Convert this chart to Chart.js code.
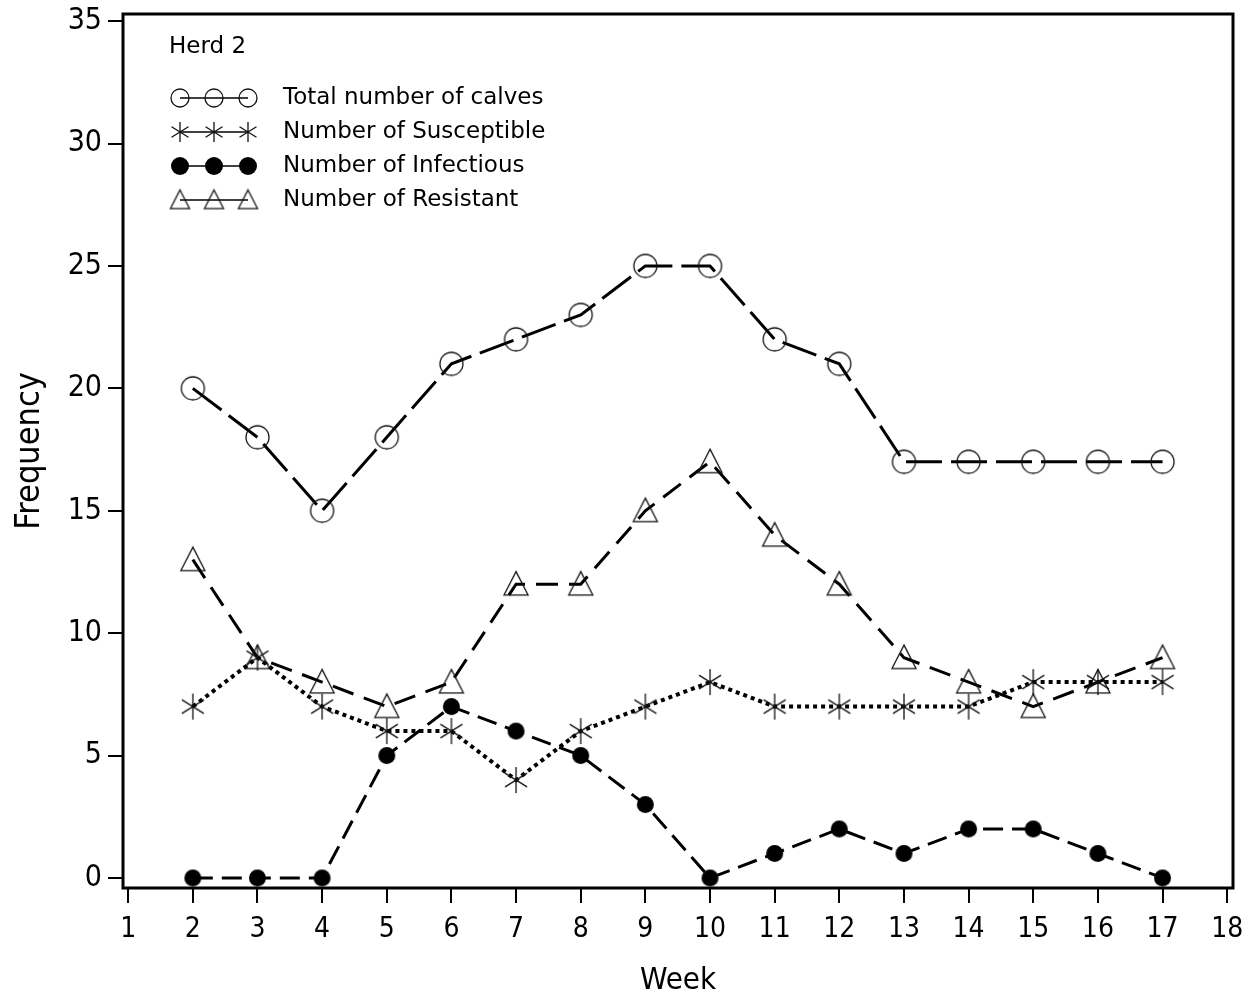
<!DOCTYPE html>
<html>
<head>
<meta charset="utf-8">
<title>Herd 2</title>
<script src="https://cdn.jsdelivr.net/npm/chart.js@4.4.1/dist/chart.umd.min.js"></script>
<style>
  html, body { margin: 0; padding: 0; background: #fff; }
  #wrap { width: 1252px; height: 997px; position: relative; }
</style>
</head>
<body>
<div id="wrap"><canvas id="canvas"></canvas></div>
<script>
// weekly counts for herd 2
const weeks = [2, 3, 4, 5, 6, 7, 8, 9, 10, 11, 12, 13, 14, 15, 16, 17];
const totalCalves = [20, 18, 15, 18, 21, 22, 23, 25, 25, 22, 21, 17, 17, 17, 17, 17];
const susceptible = [7, 9, 7, 6, 6, 4, 6, 7, 8, 7, 7, 7, 7, 8, 8, 8];
const infectious = [0, 0, 0, 5, 7, 6, 5, 3, 0, 1, 2, 1, 2, 2, 1, 0];
const resistant = [13, 9, 8, 7, 8, 12, 12, 15, 17, 14, 12, 9, 8, 7, 8, 9];

const weekTicks = [1, 2, 3, 4, 5, 6, 7, 8, 9, 10, 11, 12, 13, 14, 15, 16, 17, 18];
const freqTicks = [0, 5, 10, 15, 20, 25, 30, 35];

const seriesNames = ["Total number of calves", "Number of Susceptible", "Number of Infectious", "Number of Resistant"];
const legendTitle = "Herd 2";

const TICK_FONT = "'DejaVu Sans Condensed', 'Liberation Sans Narrow', 'DejaVu Sans', sans-serif";
const TEXT_FONT = "'DejaVu Sans', Verdana, sans-serif";

// little canvases used as point styles
function makeMarker(kind, r) {
    let s = Math.ceil(r * 2 + 6);
    let c = document.createElement("canvas");
    c.width = s;
    c.height = s;
    let g = c.getContext("2d");
    let m = s / 2;
    g.strokeStyle = "#111";
    g.fillStyle = "#000";
    g.lineWidth = 1.3;
    if (kind == "circle") {
        g.beginPath();
        g.arc(m, m, r, 0, Math.PI * 2);
        g.stroke();
    } else if (kind == "dot") {
        g.beginPath();
        g.arc(m, m, r, 0, Math.PI * 2);
        g.fill();
    } else if (kind == "star") {
        let a = 32 * Math.PI / 180;
        g.beginPath();
        g.moveTo(m, m - r);
        g.lineTo(m, m + r);
        g.moveTo(m - r * Math.cos(a), m - r * Math.sin(a));
        g.lineTo(m + r * Math.cos(a), m + r * Math.sin(a));
        g.moveTo(m - r * Math.cos(a), m + r * Math.sin(a));
        g.lineTo(m + r * Math.cos(a), m - r * Math.sin(a));
        g.stroke();
    } else if (kind == "triangle") {
        g.beginPath();
        g.moveTo(m, m - r * 1.05);
        g.lineTo(m + r, m + r * 0.9);
        g.lineTo(m - r, m + r * 0.9);
        g.closePath();
        g.stroke();
    }
    return c;
}

const plotMarkers = [makeMarker("circle", 11.5), makeMarker("star", 13), makeMarker("dot", 8.5), makeMarker("triangle", 12)];
const keyMarkers = [makeMarker("circle", 9), makeMarker("star", 10), makeMarker("dot", 9), makeMarker("triangle", 9.5)];
const dashes = [[36, 9], [4, 4], [20, 9], [22, 11]];
const widths = [3, 4, 3, 3];
const values = [totalCalves, susceptible, infectious, resistant];

function toPoints(arr) {
    return weeks.map((w, i) => ({ x: w, y: arr[i] }));
}

let datasets = [];
for (let k = 0; k < values.length; k++) {
    datasets.push({
        label: seriesNames[k],
        data: toPoints(values[k]),
        borderColor: "#000",
        borderWidth: widths[k],
        borderDash: dashes[k],
        backgroundColor: "rgba(0,0,0,0)",
        pointStyle: plotMarkers[k],
        pointRadius: 10,
        tension: 0,
        fill: false
    });
}

// box around the plot plus the key in the upper left corner
const framePlugin = {
    id: "frame",
    afterDraw(chart) {
        let ctx = chart.ctx;
        let a = chart.chartArea;
        ctx.save();
        ctx.strokeStyle = "#000";
        ctx.lineWidth = 3;
        ctx.strokeRect(a.left, a.top, a.right - a.left, a.bottom - a.top);

        ctx.fillStyle = "#000";
        ctx.textBaseline = "middle";
        ctx.textAlign = "left";
        ctx.font = "23px " + TEXT_FONT;
        ctx.fillText(legendTitle, a.left + 46, a.top + 33);

        for (let k = 0; k < seriesNames.length; k++) {
            let y = a.top + 84 + k * 34;
            let xs = [a.left + 57, a.left + 91, a.left + 125];
            ctx.lineWidth = 1.3;
            ctx.strokeStyle = "#000";
            ctx.beginPath();
            ctx.moveTo(xs[0], y);
            ctx.lineTo(xs[2], y);
            ctx.stroke();
            let mk = keyMarkers[k];
            for (let x of xs)
                ctx.drawImage(mk, x - mk.width / 2, y - mk.height / 2);
            ctx.fillText(seriesNames[k], a.left + 160, y);
        }
        ctx.restore();
    }
};

let ctx = document.getElementById("canvas").getContext("2d");
let chart = new Chart(ctx, {
    type: "line",
    data: { datasets: datasets },
    options: {
        responsive: true,
        maintainAspectRatio: false,
        animation: false,
        layout: { padding: { top: 13, right: 19, left: 0, bottom: 0 } },
        plugins: {
            legend: { display: false },
            tooltip: { enabled: false }
        },
        scales: {
            x: {
                type: "linear",
                min: 0.92,
                max: 18.09,
                afterBuildTicks: function(scale) {
                    scale.ticks = weekTicks.map(v => ({ value: v }));
                },
                afterFit: function(scale) {
                    scale.height = 109;
                    scale.paddingLeft = 0;
                    scale.paddingRight = 0;
                },
                border: { display: false },
                grid: { drawOnChartArea: false, drawTicks: true, tickLength: 15, color: "#000", lineWidth: 2 },
                ticks: {
                    color: "#000",
                    padding: 10,
                    maxRotation: 0,
                    autoSkip: false,
                    font: { family: TICK_FONT, size: 28 }
                },
                title: {
                    display: true,
                    text: "Week",
                    color: "#000",
                    padding: { top: 0, bottom: -3 },
                    font: { family: TICK_FONT, size: 31 }
                }
            },
            y: {
                min: -0.41,
                max: 35.29,
                afterBuildTicks: function(scale) {
                    scale.ticks = freqTicks.map(v => ({ value: v }));
                },
                afterFit: function(scale) {
                    scale.width = 123;
                    scale.paddingTop = 0;
                    scale.paddingBottom = 0;
                },
                border: { display: false },
                grid: { drawOnChartArea: false, drawTicks: true, tickLength: 15, color: "#000", lineWidth: 2 },
                ticks: {
                    color: "#000",
                    padding: 6,
                    autoSkip: false,
                    font: { family: TICK_FONT, size: 30 }
                },
                title: {
                    display: true,
                    text: "Frequency",
                    color: "#000",
                    padding: { top: 10, bottom: 0 },
                    font: { family: TICK_FONT, size: 34 }
                }
            }
        }
    },
    plugins: [framePlugin]
});
</script>
</body>
</html>
